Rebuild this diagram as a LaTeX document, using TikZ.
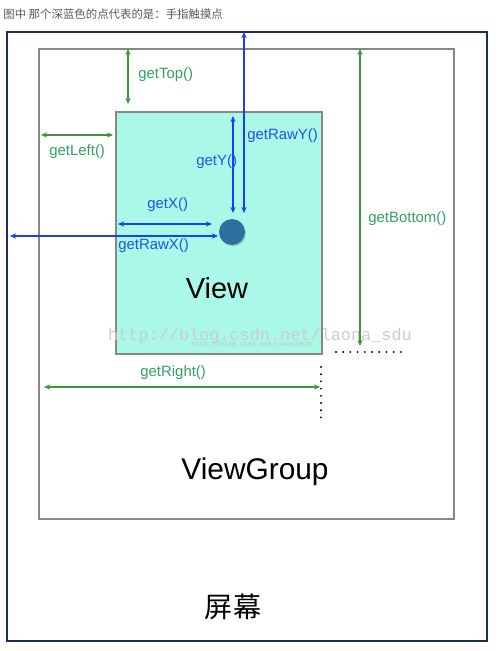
\documentclass[tikz,border=0pt]{standalone}
\usepackage{fontspec}
\setmainfont{Liberation Sans}
\newfontfamily\cjk{Noto Sans CJK SC}
\newfontfamily\wmfont{Liberation Mono}
\usetikzlibrary{arrows.meta,shadows}
\definecolor{screenblue}{RGB}{28,45,85}
\definecolor{vgray}{RGB}{135,135,135}
\definecolor{viewfill}{RGB}{170,248,232}
\definecolor{touch}{RGB}{47,111,160}
\definecolor{gline}{RGB}{60,150,60}
\definecolor{gtext}{RGB}{50,160,100}
\definecolor{bline}{RGB}{30,60,255}
\definecolor{btext}{RGB}{40,80,230}

\begin{document}
\begin{tikzpicture}[x=0.02cm, y=-0.02cm,
  frame/.style={rectangle, anchor=north west, inner sep=0pt},
  garr/.style={{Stealth[length=3.5pt,width=3pt]}-{Stealth[length=3.5pt,width=3pt]},
    draw=gline, line width=0.6pt},
  barr/.style={{Stealth[length=3.5pt,width=3pt]}-{Stealth[length=3.5pt,width=3pt]},
    draw=bline, line width=0.6pt},
  glabel/.style={anchor=west, inner sep=0pt, text=gtext,
    font=\fontsize{8.5}{10}\selectfont},
  blabel/.style={anchor=west, inner sep=0pt, text=btext,
    font=\fontsize{8.5}{10}\selectfont},
  dotrow/.style={line width=1.2pt, line cap=round, dash pattern=on 0pt off 4.1pt},
]
\useasboundingbox (0,0) rectangle (500,651);

% CAPTION
\node[anchor=west, inner sep=0pt, text=black!65, font=\cjk\fontsize{6.5}{7}\selectfont]
  (caption) at (3,14) {图中 那个深蓝色的点代表的是：手指触摸点};

% FRAMES
\node[frame, draw=screenblue, line width=1.2pt, minimum width=9.6cm, minimum height=12.18cm]
  (screen) at (6,31) {};
\node[frame, draw=vgray, line width=0.95pt, minimum width=8.3cm, minimum height=9.4cm]
  (vg) at (38,48) {};
\node[frame, draw=vgray, fill=viewfill, line width=0.95pt, minimum width=4.12cm, minimum height=4.84cm]
  (view) at (115,111) {};

% TOUCH POINT
\node[circle, fill=touch, minimum size=0.52cm, inner sep=0pt,
  drop shadow={shadow xshift=0.6pt, shadow yshift=-0.8pt, opacity=0.35}] (dot) at (232,232) {};

% BIG TITLES
\node[font=\fontsize{16.5}{18}\selectfont] (viewtxt) at (217,288) {View};
\node[font=\fontsize{17}{19}\selectfont] (vgtxt) at (255,472) {ViewGroup};
\node[font=\cjk\fontsize{16}{18}\selectfont] (screentxt) at (233,607) {屏幕};

% WATERMARK
\node[text=black!20, font=\wmfont\fontsize{9.6}{12}\selectfont] (mark) at (260,336)
  {http://blog.csdn.net/laona\_sdu};
\node[text=black!25, font=\wmfont\fontsize{3.8}{4}\selectfont] (mark2) at (252,345)
  {http://blog.csdn.net/jason0539};

% END POINTS
\coordinate (topA) at (128,49);   \coordinate (topB) at (128,104);
\coordinate (leftA) at (41,135);  \coordinate (leftB) at (113,135);
\coordinate (botA) at (360,49);   \coordinate (botB) at (360,346);
\coordinate (rightA) at (44,387); \coordinate (rightB) at (320,387);
\coordinate (rawyA) at (244,32);  \coordinate (rawyB) at (244,213);
\coordinate (yA) at (233,116);    \coordinate (yB) at (233,213);
\coordinate (xA) at (118,224);    \coordinate (xB) at (212,224);
\coordinate (rawxA) at (10,236);  \coordinate (rawxB) at (218,236);

% GREEN MEASURES
\draw[garr] (topA) -- (topB);
\draw[garr] (leftA) -- (leftB);
\draw[garr] (botA) -- (botB);
\draw[garr] (rightA) -- (rightB);
\node[glabel] (top) at (138,75) {getTop()};
\node[glabel] (left) at (49,152) {getLeft()};
\node[glabel] (bottom) at (368,219) {getBottom()};
\node[glabel] (right) at (140,373) {getRight()};

% BLUE MEASURES
\draw[barr] (rawyA) -- (rawyB);
\draw[barr] (yA) -- (yB);
\draw[barr] (xA) -- (xB);
\draw[barr] (rawxA) -- (rawxB);
\node[blabel] (rawy) at (247,136) {getRawY()};
\node[blabel] (gy) at (196,162) {getY()};
\node[blabel] (gx) at (147,205) {getX()};
\node[blabel] (rawx) at (118,246) {getRawX()};

% DOTTED CONTINUATIONS
\coordinate (hdA) at (336,352); \coordinate (hdB) at (406,352);
\coordinate (vdA) at (321,367); \coordinate (vdB) at (321,422);
\draw[dotrow] (hdA) -- (hdB);
\draw[dotrow] (vdA) -- (vdB);
\end{tikzpicture}
\end{document}
